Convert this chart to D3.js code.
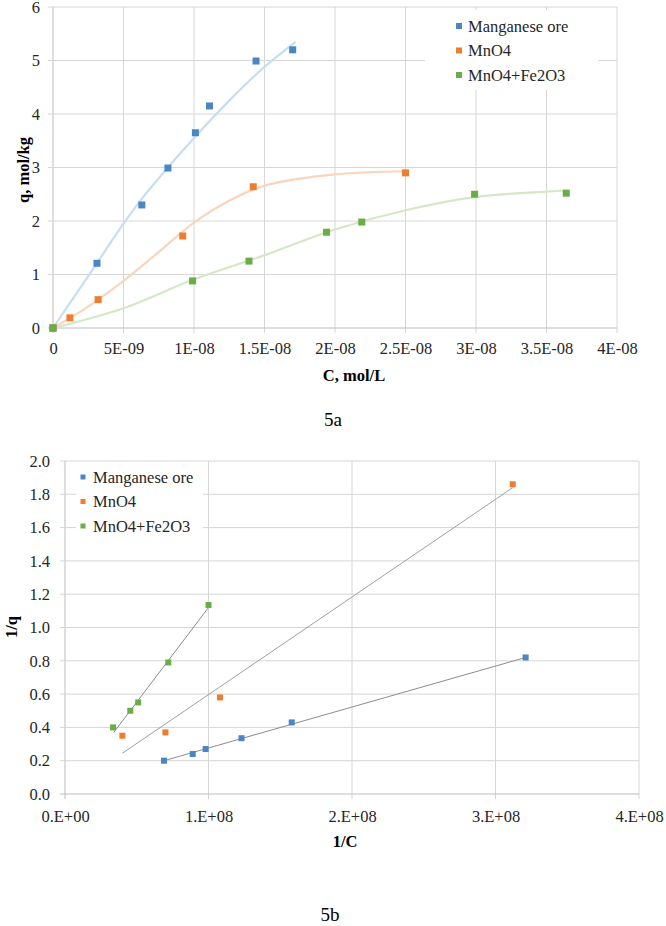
<!DOCTYPE html>
<html>
<head>
<meta charset="utf-8">
<script src="https://cdn.jsdelivr.net/npm/d3@7"></script>
<style>
  body { margin: 0; background: #fff; }
  svg text { font-family: "Liberation Serif", "Times New Roman", Times, serif !important; }
</style>
</head>
<body>
<div id="chart"></div>
<script>
// ---- 5a: q vs C ----
const seriesNames = ["Manganese ore", "MnO4", "MnO4+Fe2O3"];
const seriesColors = ["#4a86c5", "#ed7d31", "#6aac45"];
const trendColors = ["#c6def2", "#f9d5bd", "#d4e8c6"];

const oreC = [0, 3.12e-9, 6.3e-9, 8.15e-9, 1.01e-8, 1.11e-8, 1.44e-8, 1.7e-8];
const oreQ = [0, 1.21, 2.30, 2.99, 3.65, 4.15, 4.99, 5.20];
const mnoC = [0, 1.2e-9, 3.2e-9, 9.2e-9, 1.42e-8, 2.5e-8];
const mnoQ = [0, 0.19, 0.53, 1.72, 2.64, 2.90];
const feC = [0, 9.9e-9, 1.39e-8, 1.94e-8, 2.19e-8, 2.99e-8, 3.64e-8];
const feQ = [0, 0.88, 1.25, 1.79, 1.98, 2.50, 2.52];

// trend curves
const oreTrendC = [0, 2.5e-9, 5e-9, 6.25e-9, 7.5e-9, 1e-8, 1.25e-8, 1.5e-8, 1.72e-8];
const oreTrendQ = [0, 0.97, 1.95, 2.4, 2.8, 3.55, 4.25, 4.88, 5.35];
const mnoTrendC = [0, 2.5e-9, 5e-9, 7.5e-9, 1e-8, 1.25e-8, 1.5e-8, 2e-8, 2.5e-8];
const mnoTrendQ = [0, 0.4, 0.88, 1.42, 1.97, 2.38, 2.66, 2.87, 2.93];
const feTrendC = [0, 5e-9, 1e-8, 1.5e-8, 2e-8, 2.5e-8, 3e-8, 3.5e-8, 3.65e-8];
const feTrendQ = [0, 0.37, 0.91, 1.36, 1.84, 2.2, 2.45, 2.55, 2.57];

const topXTicks = [0, 5e-9, 1e-8, 1.5e-8, 2e-8, 2.5e-8, 3e-8, 3.5e-8, 4e-8];
const topXLabels = ["0", "5E-09", "1E-08", "1.5E-08", "2E-08", "2.5E-08", "3E-08", "3.5E-08", "4E-08"];
const topYTicks = [0, 1, 2, 3, 4, 5, 6];

// ---- 5b: 1/q vs 1/C ----
const oreInvC = [0.69e8, 0.89e8, 0.98e8, 1.23e8, 1.58e8, 3.21e8];
const oreInvQ = [0.20, 0.24, 0.27, 0.335, 0.43, 0.82];
const mnoInvC = [0.40e8, 0.70e8, 1.08e8, 3.12e8];
const mnoInvQ = [0.35, 0.37, 0.58, 1.86];
const feInvC = [0.335e8, 0.455e8, 0.51e8, 0.72e8, 1.0e8];
const feInvQ = [0.40, 0.50, 0.55, 0.79, 1.135];

// linear trendline end points
const oreLineC = [0.69e8, 3.21e8];
const oreLineQ = [0.20, 0.82];
const mnoLineC = [0.40e8, 3.12e8];
const mnoLineQ = [0.245, 1.84];
const feLineC = [0.34e8, 1.0e8];
const feLineQ = [0.37, 1.12];

const botXTicks = [0, 1e8, 2e8, 3e8, 4e8];
const botXLabels = ["0.E+00", "1.E+08", "2.E+08", "3.E+08", "4.E+08"];
const botYTicks = [0, 0.2, 0.4, 0.6, 0.8, 1.0, 1.2, 1.4, 1.6, 1.8, 2.0];

const zip = (xs, ys) => xs.map((x, i) => [x, ys[i]]);

const svg = d3.select("#chart").append("svg")
    .attr("width", 666)
    .attr("height", 926);

function drawPanel(opt) {
    const x = d3.scaleLinear().domain(opt.xDomain).range([opt.left, opt.right]);
    const y = d3.scaleLinear().domain(opt.yDomain).range([opt.bottom, opt.top]);
    const g = svg.append("g");

    // gridlines (extend a little outside as tick marks)
    g.append("g").selectAll("line.vg").data(opt.xTicks).enter().append("line")
        .attr("x1", d => x(d)).attr("x2", d => x(d))
        .attr("y1", opt.top).attr("y2", opt.bottom + 5)
        .attr("stroke", d => d === 0 ? "#bdbdbd" : "#d6d6d6").attr("stroke-width", 1);
    g.append("g").selectAll("line.hg").data(opt.yTicks).enter().append("line")
        .attr("x1", opt.left - 5).attr("x2", opt.right)
        .attr("y1", d => y(d)).attr("y2", d => y(d))
        .attr("stroke", d => d === 0 ? "#bdbdbd" : "#d6d6d6").attr("stroke-width", 1);

    // tick labels
    const xAxis = d3.axisBottom(x).tickValues(opt.xTicks)
        .tickFormat((d, i) => opt.xLabels[i]).tickSize(0).tickPadding(opt.xPad);
    g.append("g").attr("transform", "translate(0," + opt.bottom + ")").call(xAxis)
        .call(a => a.select(".domain").remove())
        .selectAll("text").attr("font-size", 16.5).attr("fill", "#262626");
    const yAxis = d3.axisLeft(y).tickValues(opt.yTicks)
        .tickFormat(opt.yFormat).tickSize(0).tickPadding(opt.yPad);
    g.append("g").attr("transform", "translate(" + opt.left + ",0)").call(yAxis)
        .call(a => a.select(".domain").remove())
        .selectAll("text").attr("font-size", 16.5).attr("fill", "#262626");

    // trend lines
    opt.trends.forEach((t, i) => {
        g.append("path").datum(t)
            .attr("fill", "none")
            .attr("stroke", opt.trendColors[i])
            .attr("stroke-width", opt.trendWidth)
            .attr("d", d3.line().x(d => x(d[0])).y(d => y(d[1])).curve(opt.curve));
    });

    // markers
    opt.points.forEach((pts, i) => {
        g.append("g").selectAll("rect").data(pts).enter().append("rect")
            .attr("x", d => x(d[0]) - opt.mk / 2)
            .attr("y", d => y(d[1]) - opt.mk / 2)
            .attr("width", opt.mk).attr("height", opt.mk)
            .attr("fill", seriesColors[i]);
    });

    // axis titles
    g.append("text").attr("x", opt.xTitleX).attr("y", opt.xTitleY)
        .attr("text-anchor", "middle").attr("font-size", 16.5).attr("font-weight", "bold")
        .text(opt.xTitle);
    g.append("text")
        .attr("transform", "translate(" + opt.yTitleX + "," + opt.yTitleY + ") rotate(-90)")
        .attr("text-anchor", "middle").attr("font-size", 16.5).attr("font-weight", "bold")
        .text(opt.yTitle);

    // legend
    const lg = g.append("g");
    lg.append("rect").attr("x", opt.legend.x0).attr("y", opt.legend.y0)
        .attr("width", opt.legend.w).attr("height", opt.legend.h).attr("fill", "#fff");
    seriesNames.forEach((name, i) => {
        const cy = opt.legend.rowY + i * opt.legend.step;
        lg.append("rect").attr("x", opt.legend.mx - opt.legend.ms / 2).attr("y", cy - opt.legend.ms / 2)
            .attr("width", opt.legend.ms).attr("height", opt.legend.ms).attr("fill", seriesColors[i]);
        lg.append("text").attr("x", opt.legend.tx).attr("y", cy + 5.5)
            .attr("font-size", 16.5).attr("fill", "#262626").text(name);
    });

    // panel caption
    g.append("text").attr("x", opt.capX).attr("y", opt.capY)
        .attr("text-anchor", "middle").attr("font-size", 19).text(opt.caption);
}

drawPanel({
    left: 53, right: 617, top: 7, bottom: 328,
    xDomain: [0, 4e-8], yDomain: [0, 6],
    xTicks: topXTicks, xLabels: topXLabels, yTicks: topYTicks,
    yFormat: d3.format("d"), xPad: 14, yPad: 13,
    trends: [zip(oreTrendC, oreTrendQ), zip(mnoTrendC, mnoTrendQ), zip(feTrendC, feTrendQ)],
    trendColors: trendColors, trendWidth: 2.2, curve: d3.curveCatmullRom,
    points: [zip(oreC, oreQ), zip(mnoC, mnoQ), zip(feC, feQ)], mk: 7,
    xTitle: "C, mol/L", xTitleX: 354, xTitleY: 381,
    yTitle: "q, mol/kg", yTitleX: 29, yTitleY: 170,
    legend: { x0: 425, y0: 10, w: 173, h: 80, mx: 459, ms: 6, tx: 468, rowY: 26, step: 24.5 },
    caption: "5a", capX: 333, capY: 426
});

drawPanel({
    left: 65, right: 639, top: 461, bottom: 794,
    xDomain: [0, 4e8], yDomain: [0, 2],
    xTicks: botXTicks, xLabels: botXLabels, yTicks: botYTicks,
    yFormat: d3.format(".1f"), xPad: 16, yPad: 15,
    trends: [zip(oreLineC, oreLineQ), zip(mnoLineC, mnoLineQ), zip(feLineC, feLineQ)],
    trendColors: ["#8c8c8c", "#a0a0a0", "#8c8c8c"], trendWidth: 1, curve: d3.curveLinear,
    points: [zip(oreInvC, oreInvQ), zip(mnoInvC, mnoInvQ), zip(feInvC, feInvQ)], mk: 6,
    xTitle: "1/C", xTitleX: 345, xTitleY: 847,
    yTitle: "1/q", yTitleX: 17, yTitleY: 627,
    legend: { x0: 76, y0: 465, w: 127, h: 72, mx: 83, ms: 5, tx: 93, rowY: 477, step: 24.5 },
    caption: "5b", capX: 330, capY: 921
});
</script>
</body>
</html>
